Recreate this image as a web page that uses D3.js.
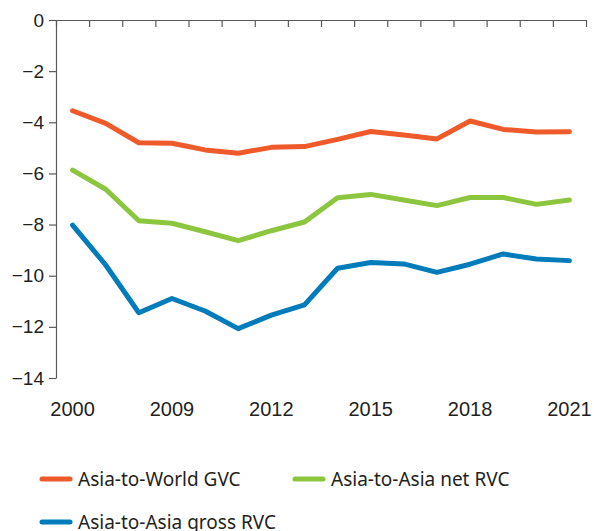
<!DOCTYPE html>
<html>
<head>
<meta charset="utf-8">
<script src="https://cdn.jsdelivr.net/npm/d3@7"></script>
<style>
  body { margin: 0; background: #fff; }
  svg { display: block; font-family: "Noto Sans", sans-serif; }
  .axis text { font-size: 19px; fill: #231f20; }
  .axis.years text { font-size: 20px; }
  .axis path, .axis line { stroke: #58595b; stroke-width: 1.2; }
  .legend text { font-size: 19px; fill: #231f20; }
</style>
</head>
<body>
<svg id="chart" width="594" height="531"></svg>
<script>
// years on the x axis (2001–2006 are not in the series)
const YEARS = ["2000", "2007", "2008", "2009", "2010", "2011", "2012", "2013",
               "2014", "2015", "2016", "2017", "2018", "2019", "2020", "2021"];
const YEAR_LABELS = ["2000", "2009", "2012", "2015", "2018", "2021"];
const Y_TICKS = [0, -2, -4, -6, -8, -10, -12, -14];

const GVC_WORLD = [-3.55, -4.04, -4.80, -4.82, -5.08, -5.21, -4.98, -4.95,
                   -4.67, -4.36, -4.50, -4.65, -3.95, -4.28, -4.38, -4.37];
const RVC_NET = [-5.87, -6.62, -7.85, -7.95, -8.28, -8.63, -8.24, -7.90,
                 -6.95, -6.82, -7.04, -7.26, -6.94, -6.94, -7.21, -7.04];
const RVC_GROSS = [-8.02, -9.58, -11.45, -10.89, -11.38, -12.07, -11.54, -11.14,
                   -9.71, -9.48, -9.54, -9.87, -9.55, -9.15, -9.35, -9.41];

const SERIES = [
  {name: "Asia-to-World GVC", values: GVC_WORLD, color: "#ef5a2a"},
  {name: "Asia-to-Asia net RVC", values: RVC_NET, color: "#8cc63f"},
  {name: "Asia-to-Asia gross RVC", values: RVC_GROSS, color: "#007cba"},
];

const svg = d3.select("#chart");
const L = 56, R = 586, T = 20, B = 378;

const x = d3.scaleBand(YEARS, [L, R]);
const edge = d3.scaleLinear([0, YEARS.length], [L, R]);
const y = d3.scaleLinear([-14, 0], [B, T]);

// zero line on top, tick marks at the band edges pointing down
svg.append("g").attr("class", "axis").attr("transform", `translate(0,${T})`)
  .call(d3.axisBottom(edge).tickValues(d3.range(YEARS.length + 1))
    .tickSize(7).tickSizeOuter(0).tickFormat(""));

svg.append("g").attr("class", "axis").attr("transform", `translate(${L},0)`)
  .call(d3.axisLeft(y).tickValues(Y_TICKS).tickSize(7).tickSizeOuter(0)
    .tickPadding(5).tickFormat(d => d < 0 ? "\u2212" + Math.abs(d) : d));

// year labels under the plot
svg.append("g").attr("class", "axis years").attr("transform", `translate(0,${B + 24})`)
  .call(d3.axisBottom(x).tickValues(YEAR_LABELS).tickSize(0).tickPadding(0))
  .call(g => g.select(".domain").remove());

const line = d3.line()
  .x((d, i) => x(YEARS[i]) + x.bandwidth() / 2)
  .y(d => y(d));

svg.append("g").selectAll("path").data(SERIES).join("path")
  .attr("d", s => line(s.values))
  .attr("fill", "none").attr("stroke", s => s.color)
  .attr("stroke-width", 5).attr("stroke-linejoin", "round")
  .attr("stroke-linecap", "round");

// legend: two per row, the third runs off the bottom edge as in the source
const leg = svg.append("g").attr("class", "legend");
const spots = [[40, 479], [293, 479], [40, 522]];
SERIES.forEach((s, i) => {
  const [lx, ly] = spots[i];
  const g = leg.append("g").attr("transform", `translate(${lx},${ly})`);
  g.append("line").attr("x1", 2).attr("x2", 30)
    .attr("stroke", s.color).attr("stroke-width", 5).attr("stroke-linecap", "round");
  g.append("text").attr("x", 38).attr("dy", "0.35em").text(s.name);
});
</script>
</body>
</html>
